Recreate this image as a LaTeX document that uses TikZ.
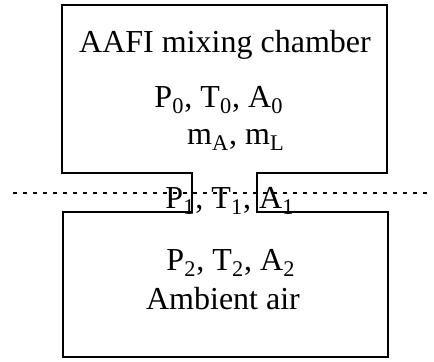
\documentclass[tikz,border=0pt]{standalone}
\usepackage{fontspec}
\setmainfont{Liberation Serif}
\usetikzlibrary{positioning}

\begin{document}
\begin{tikzpicture}[
  x=0.5pt, y=-0.5pt,
  font=\fontsize{16}{19}\selectfont,
  wall/.style={draw, line width=1pt, line join=miter},
  cut/.style={draw, line width=0.9pt, dash pattern=on 2pt off 3pt},
  lbl/.style={anchor=base, inner sep=0pt}
]
\useasboundingbox (0,0) rectangle (434,362);

% chamber, throat and ambient region as one outline
\draw[wall] (192,173) -- (62,173) -- (62,5) -- (387,5) -- (387,173)
  -- (257,173) -- (257,212) -- (388,212) -- (388,357) -- (63,357)
  -- (63,212) -- (192,212) -- cycle;

\coordinate (cutL) at (13,193);
\coordinate (cutR) at (432,193);
\draw[cut] (cutL) -- (cutR);

\node[lbl] (title) at (225,53) {AAFI mixing chamber};
\node[lbl] (st0)   at (219,108) {P\textsubscript{0}, T\textsubscript{0}, A\textsubscript{0}};
\node[lbl] (mass)  at (236,145) {m\textsubscript{A}, m\textsubscript{L}};
\node[lbl] (st1)   at (230,209) {P\textsubscript{1}, T\textsubscript{1}, A\textsubscript{1}};
\node[lbl] (st2)   at (231,271) {P\textsubscript{2}, T\textsubscript{2}, A\textsubscript{2}};
\node[lbl] (amb)   at (223,310) {Ambient air};
\end{tikzpicture}
\end{document}
